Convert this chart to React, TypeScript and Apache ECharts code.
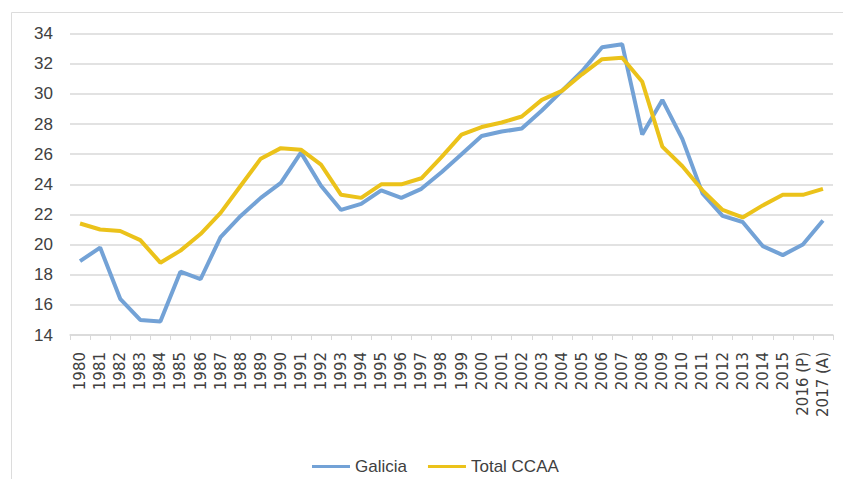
import React, { useEffect, useRef } from "react";
import * as echarts from "echarts";

const years = [
  "1980", "1981", "1982", "1983", "1984", "1985", "1986", "1987", "1988", "1989",
  "1990", "1991", "1992", "1993", "1994", "1995", "1996", "1997", "1998", "1999",
  "2000", "2001", "2002", "2003", "2004", "2005", "2006", "2007", "2008", "2009",
  "2010", "2011", "2012", "2013", "2014", "2015", "2016 (P)", "2017 (A)",
];

const galicia = [
  18.9, 19.8, 16.4, 15.0, 14.9, 18.2, 17.7, 20.5, 21.9, 23.1,
  24.1, 26.1, 23.9, 22.3, 22.7, 23.6, 23.1, 23.7, 24.8, 26.0,
  27.2, 27.5, 27.7, 28.9, 30.2, 31.5, 33.1, 33.3, 27.3, 29.6,
  27.0, 23.4, 21.9, 21.5, 19.9, 19.3, 20.0, 21.6,
];

const totalCCAA = [
  21.4, 21.0, 20.9, 20.3, 18.8, 19.6, 20.7, 22.1, 23.9, 25.7,
  26.4, 26.3, 25.3, 23.3, 23.1, 24.0, 24.0, 24.4, 25.8, 27.3,
  27.8, 28.1, 28.5, 29.6, 30.2, 31.3, 32.3, 32.4, 30.8, 26.5,
  25.2, 23.6, 22.3, 21.8, 22.6, 23.3, 23.3, 23.7,
];

const yTicks = { min: 14, max: 34, interval: 2 };

export default function App() {
  const ref = useRef<HTMLDivElement>(null);
  useEffect(() => {
    if (!ref.current) return;
    const chart = echarts.init(ref.current, undefined, { renderer: "svg" });
    const font = "Liberation Sans, Arial, sans-serif";
    chart.setOption({
      animation: false,
      backgroundColor: "#ffffff",
      graphic: [
        {
          type: "rect",
          shape: { x: 11.5, y: 12.5, width: 900, height: 600 },
          style: { fill: "none", stroke: "#dcdcdc", lineWidth: 1 },
          silent: true,
        },
      ],
      grid: { left: 70, right: 10, top: 33.6, bottom: 144, containLabel: false },
      legend: {
        left: 307,
        top: 453,
        icon: "rect",
        itemWidth: 38,
        itemHeight: 3,
        itemGap: 21,
        textStyle: { fontFamily: font, fontSize: 17, color: "#404040" },
        data: ["Galicia", "Total CCAA"],
      },
      xAxis: {
        type: "category",
        data: years,
        boundaryGap: true,
        axisLine: { lineStyle: { color: "#d9d9d9", width: 1.5 } },
        axisTick: { show: true, length: 5, lineStyle: { color: "#d9d9d9" } },
        axisLabel: {
          rotate: 90,
          interval: 0,
          margin: 17,
          fontFamily: "DejaVu Sans, sans-serif",
          fontSize: 15,
          color: "#404040",
        },
      },
      yAxis: {
        type: "value",
        min: yTicks.min,
        max: yTicks.max,
        interval: yTicks.interval,
        axisLine: { show: false },
        axisTick: { show: false },
        axisLabel: { margin: 17, fontFamily: font, fontSize: 17, color: "#404040" },
        splitLine: { lineStyle: { color: "#d9d9d9", width: 1.5 } },
      },
      series: [
        {
          name: "Galicia",
          type: "line",
          data: galicia,
          symbol: "none",
          lineStyle: { color: "#73A2D6", width: 4 },
          itemStyle: { color: "#73A2D6" },
        },
        {
          name: "Total CCAA",
          type: "line",
          data: totalCCAA,
          symbol: "none",
          lineStyle: { color: "#EBC21A", width: 4 },
          itemStyle: { color: "#EBC21A" },
        },
      ],
    });
    return () => chart.dispose();
  }, []);
  return (
    <div
      ref={ref}
      style={{ position: "fixed", left: 0, top: 0, width: 843, height: 479 }}
    />
  );
}
